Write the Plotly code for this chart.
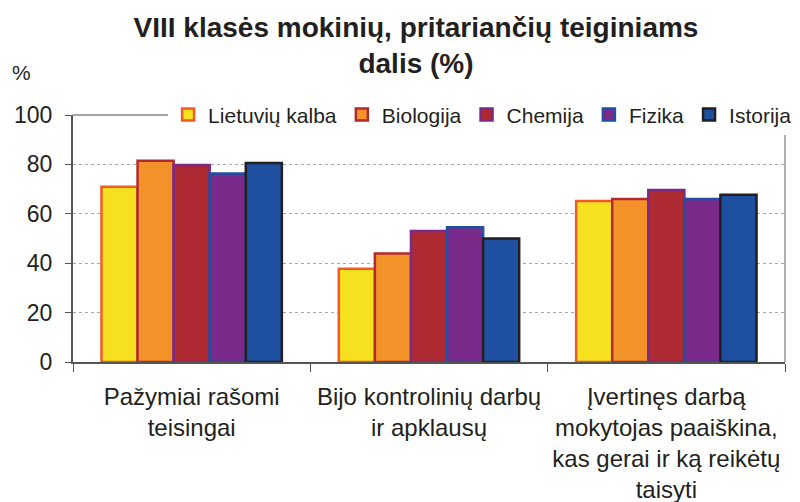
import plotly.graph_objects as go

categories = ["Pažymiai rašomi<br>teisingai",
              "Bijo kontrolinių darbų<br>ir apklausų",
              "Įvertinęs darbą<br>mokytojas paaiškina,<br>kas gerai ir ką reikėtų<br>taisyti"]
series_names = ["Lietuvių kalba", "Biologija", "Chemija", "Fizika", "Istorija"]
lietuviu = [71.0, 37.8, 65.2]
biologija = [81.5, 43.9, 66.0]
chemija = [79.8, 53.0, 69.6]
fizika = [76.3, 54.6, 66.0]
istorija = [80.6, 50.0, 67.7]
y_ticks = [0, 20, 40, 60, 80, 100]

series_values = [lietuviu, biologija, chemija, fizika, istorija]
fills = ["#f6e121", "#f4922a", "#ad2a32", "#7a2a8b", "#1f4fa0"]
lines = ["#f05a28", "#b02a30", "#7a2a8b", "#1f4fa0", "#231f20"]

FONT = "Liberation Sans, Arial, sans-serif"
TXT = "#231f20"

fig = go.Figure()
for name, vals, fc, lc in zip(series_names, series_values, fills, lines):
    fig.add_trace(go.Bar(
        name=name, x=categories, y=vals,
        marker=dict(color=fc, line=dict(color=lc, width=2.5)),
    ))

fig.update_layout(
    width=800, height=502,
    paper_bgcolor="white", plot_bgcolor="white",
    margin=dict(l=73, r=15, t=115, b=140, autoexpand=False),
    barmode="group", bargap=0.24, bargroupgap=0,
    font=dict(family=FONT, size=22, color=TXT),
    title=dict(
        text="VIII klasės mokinių, pritariančių teiginiams<br>dalis (%)",
        x=0.52, xanchor="center", y=0.927, yanchor="top",
        font=dict(family=FONT, size=28, color=TXT, weight="bold"),
    ),
    legend=dict(
        orientation="h", x=1.017, xanchor="right", y=1.001, yanchor="middle",
        bgcolor="white", font=dict(family=FONT, size=21, color=TXT),
        itemwidth=30, tracegroupgap=0,
    ),
    showlegend=True,
)
fig.update_xaxes(
    showline=True, linecolor="#555555", linewidth=2,
    ticks="outside", tickson="boundaries", ticklen=8, tickcolor="#555555",
    showgrid=False, mirror=False, ticklabelstandoff=12,
    tickfont=dict(family=FONT, size=24, color=TXT),
)
fig.update_yaxes(
    range=[0, 100], tickvals=y_ticks,
    showline=True, linecolor="#555555", linewidth=2,
    ticks="outside", ticklen=6, tickcolor="#555555",
    showgrid=True, gridcolor="#a8a8a8", griddash="dot", gridwidth=1,
    zeroline=False, ticklabelstandoff=8,
    tickfont=dict(family=FONT, size=23, color=TXT),
)
# plot area top and right border lines
fig.add_shape(type="line", xref="paper", yref="paper", x0=0, x1=1, y0=1, y1=1,
              line=dict(color="#8a8a8a", width=1.5), layer="below")
fig.add_shape(type="line", xref="paper", yref="paper", x0=1, x1=1, y0=0, y1=1,
              line=dict(color="#b0b0b0", width=2), layer="below")
fig.add_annotation(text="%", xref="paper", yref="paper", x=-0.088, y=1.173,
                   xanchor="left", yanchor="middle", showarrow=False,
                   font=dict(family=FONT, size=21, color=TXT))

fig.write_html("out.html", config={"displayModeBar": False},
               post_script="document.body.style.margin='0';")
